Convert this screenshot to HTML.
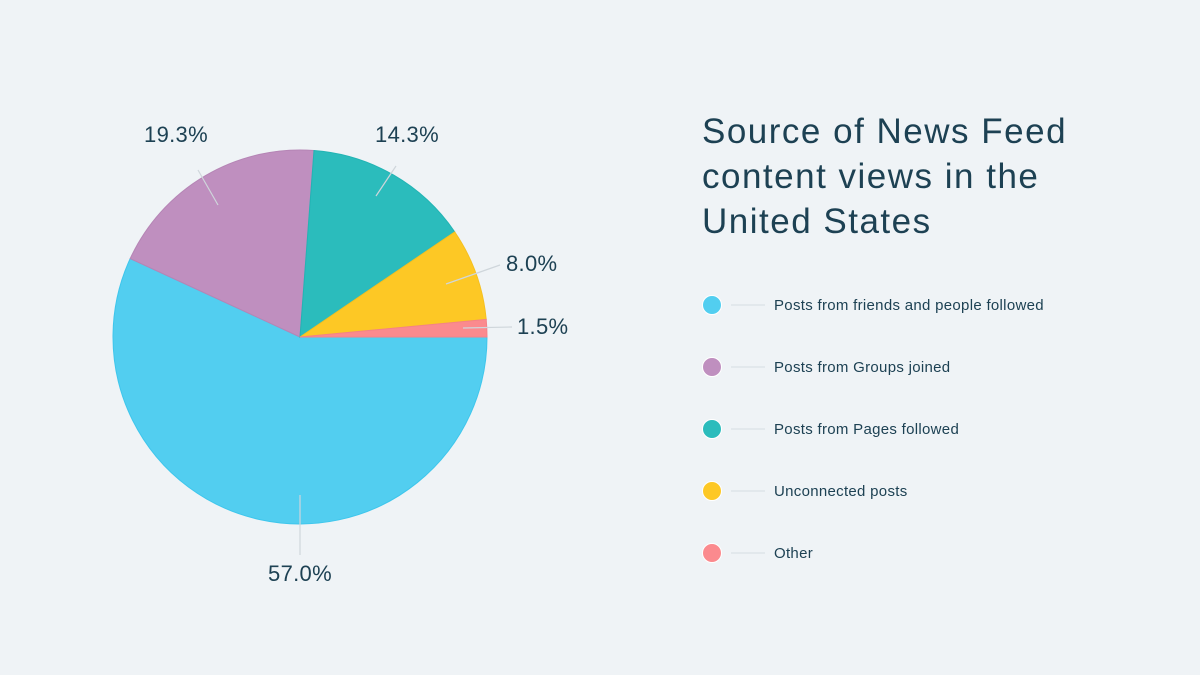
<!DOCTYPE html>
<html><head><style>
body{margin:0;width:1200px;height:675px;background:#eff3f6;overflow:hidden}
svg{display:block}
text{font-family:"Liberation Sans",sans-serif;fill:#1d4153}
</style></head><body>
<svg width="1200" height="675" viewBox="0 0 1200 675">
<g stroke-width="1">
<path d="M300,337 L487,337 A187,187 0 1 1 130.2,258.6 Z" fill="#52cef0" stroke="#3ec6ec"/>
<path d="M300,337 L130.2,258.6 A187,187 0 0 1 314,150.5 Z" fill="#bf8fbf" stroke="#b585b5"/>
<path d="M300,337 L314,150.5 A187,187 0 0 1 454.7,231.9 Z" fill="#2bbcbc" stroke="#22b4b4"/>
<path d="M300,337 L454.7,231.9 A187,187 0 0 1 486.2,319.4 Z" fill="#fdc825" stroke="#f5c020"/>
<path d="M300,337 L486.2,319.4 A187,187 0 0 1 487,337 Z" fill="#fb8a8e" stroke="#f48288"/>
</g>
<g stroke="#cfd6db" stroke-width="1.2">
<line x1="300" y1="495" x2="300" y2="555"/>
<line x1="218" y1="205" x2="198" y2="170"/>
<line x1="376" y1="196" x2="396" y2="166"/>
<line x1="446" y1="284" x2="500" y2="265"/>
<line x1="463" y1="328" x2="512" y2="327"/>
</g>
<g font-size="22" letter-spacing="0.3">
<text x="300" y="581" text-anchor="middle">57.0%</text>
<text x="176" y="142" text-anchor="middle">19.3%</text>
<text x="407" y="142" text-anchor="middle">14.3%</text>
<text x="506" y="271">8.0%</text>
<text x="517" y="334">1.5%</text>
</g>
<g font-size="35" letter-spacing="1.5">
<text x="702" y="143">Source of News Feed</text>
<text x="702" y="188">content views in the</text>
<text x="702" y="233">United States</text>
</g>
<g stroke="#d5dce1" stroke-width="1">
<line x1="731" y1="305" x2="765" y2="305"/>
<line x1="731" y1="367" x2="765" y2="367"/>
<line x1="731" y1="429" x2="765" y2="429"/>
<line x1="731" y1="491" x2="765" y2="491"/>
<line x1="731" y1="553" x2="765" y2="553"/>
</g>
<g stroke="#ffffff" stroke-width="1">
<circle cx="712" cy="305" r="9.5" fill="#52cef0"/>
<circle cx="712" cy="367" r="9.5" fill="#bf8fbf"/>
<circle cx="712" cy="429" r="9.5" fill="#2bbcbc"/>
<circle cx="712" cy="491" r="9.5" fill="#fdc825"/>
<circle cx="712" cy="553" r="9.5" fill="#fb8a8e"/>
</g>
<g font-size="15" letter-spacing="0.3">
<text x="774" y="310">Posts from friends and people followed</text>
<text x="774" y="372">Posts from Groups joined</text>
<text x="774" y="434">Posts from Pages followed</text>
<text x="774" y="496">Unconnected posts</text>
<text x="774" y="558">Other</text>
</g>
</svg>
</body></html>
